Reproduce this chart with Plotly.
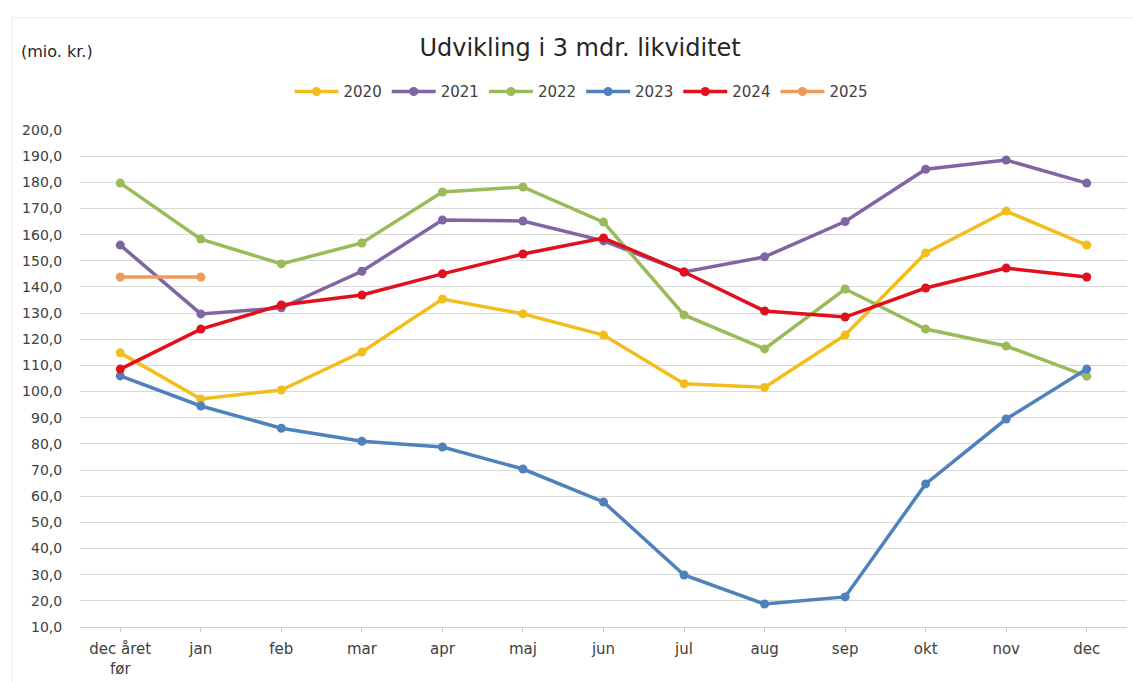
import plotly.graph_objects as go

categories = ["dec året<br>før", "jan", "feb", "mar", "apr", "maj", "jun", "jul", "aug", "sep", "okt", "nov", "dec"]
years = ["2020", "2021", "2022", "2023", "2024", "2025"]
v2020 = [114.8, 97.2, 100.6, 115.1, 135.4, 129.7, 121.6, 103.0, 101.6, 121.6, 153.0, 169.0, 156.0]
v2021 = [156.0, 129.7, 132.0, 146.0, 165.6, 165.2, 157.6, 145.7, 151.5, 165.0, 185.0, 188.5, 179.7]
v2022 = [179.7, 158.3, 148.8, 156.8, 176.3, 178.2, 164.8, 129.3, 116.3, 139.2, 123.9, 117.4, 105.9]
v2023 = [106.0, 94.5, 86.0, 81.0, 78.8, 70.4, 57.8, 29.9, 18.8, 21.5, 64.7, 89.5, 108.6]
v2024 = [108.6, 123.9, 133.1, 136.9, 145.0, 152.6, 158.7, 145.7, 130.8, 128.5, 139.6, 147.2, 143.8]
v2025 = [143.8, 143.8]
colors = ["#F2BD1D", "#8065A3", "#9ABB59", "#4F81BD", "#E0101C", "#F09A5A"]

series = [v2020, v2021, v2022, v2023, v2024, v2025]
font_family = "'DejaVu Sans', sans-serif"

fig = go.Figure()
for name, vals, col in zip(years, series, colors):
    fig.add_trace(go.Scatter(
        x=categories[:len(vals)], y=vals, name=name, mode="lines+markers",
        line=dict(color=col, width=3.5), marker=dict(color=col, size=9),
    ))

fig.update_layout(
    width=1133, height=682,
    margin=dict(l=80, r=6, t=130, b=55),
    paper_bgcolor="white", plot_bgcolor="white",
    separators=",.",
    font=dict(family=font_family, color="#404040", size=13),
    title=dict(text="Udvikling i 3 mdr. likviditet", x=0.512, xanchor="center",
               y=0.93, yanchor="middle", font=dict(size=24, color="#262626")),
    legend=dict(orientation="h", x=0.479, xanchor="center", y=1.077, yanchor="middle",
                font=dict(size=15, color="#404040"), itemwidth=44, traceorder="normal"),
    showlegend=True,
)
fig.update_xaxes(
    type="category", categoryorder="array", categoryarray=categories,
    range=[-0.5, 12.5], showgrid=False, showline=True, linecolor="#D0D0D0", linewidth=1,
    ticks="outside", ticklen=4, tickcolor="#C8C8C8", tickfont=dict(size=15, color="#404040"),
    ticklabelstandoff=4, automargin=False,
)
fig.update_yaxes(
    range=[10, 200], dtick=10, tick0=10, tickformat=".1f",
    showgrid=True, gridcolor="#D9D9D9", gridwidth=1.2, zeroline=False,
    showline=False, tickfont=dict(size=14, color="#404040"),
    ticks="outside", ticklen=14, tickcolor="rgba(0,0,0,0)",
    automargin=False,
)
fig.add_annotation(text="(mio. kr.)", xref="paper", yref="paper", x=-0.058, y=1.157,
                   xanchor="left", yanchor="middle", showarrow=False,
                   font=dict(size=16, color="#262626"))
fig.add_shape(type="line", xref="paper", yref="paper", x0=-0.065, x1=1.01, y0=1.226, y1=1.226,
              line=dict(color="#EBEBEB", width=1))
fig.add_shape(type="line", xref="paper", yref="paper", x0=-0.065, x1=-0.065, y0=1.226, y1=-0.12,
              line=dict(color="#EBEBEB", width=1))

fig.write_html("out.html", config={"displayModeBar": False},
               post_script="document.body.style.margin='0';")
